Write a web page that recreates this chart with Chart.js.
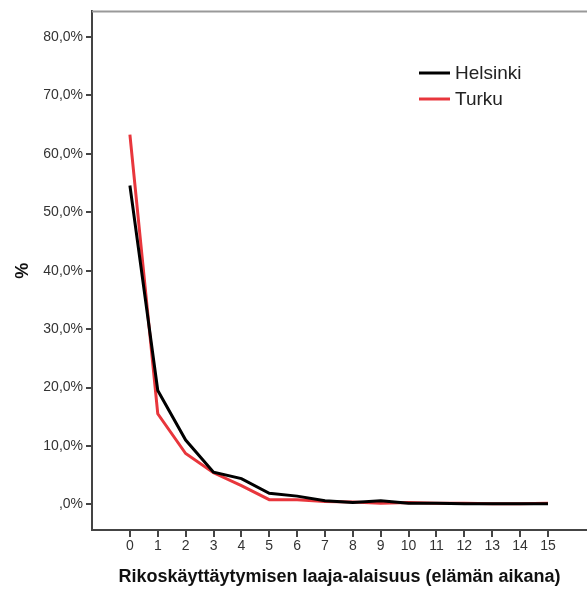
<!DOCTYPE html>
<html>
<head>
<meta charset="utf-8">
<script src="https://cdn.jsdelivr.net/npm/chart.js@4/dist/chart.umd.min.js"></script>
<style>
  html, body { margin: 0; padding: 0; background: #fff; }
  #wrap { width: 587px; height: 592px; }
</style>
</head>
<body>
<div id="wrap"><canvas id="rikosChart"></canvas></div>
<script>
const counts = [0, 1, 2, 3, 4, 5, 6, 7, 8, 9, 10, 11, 12, 13, 14, 15];
const helsinki = [54.6, 19.5, 11.0, 5.5, 4.4, 1.9, 1.4, 0.6, 0.3, 0.6, 0.2, 0.2, 0.1, 0.1, 0.1, 0.1];
const turku = [63.3, 15.5, 8.7, 5.4, 3.2, 0.8, 0.8, 0.5, 0.4, 0.2, 0.3, 0.2, 0.2, 0.1, 0.1, 0.2];
const yTicks = [0, 10, 20, 30, 40, 50, 60, 70, 80];

const fontFamily = '"Liberation Sans", Arial, sans-serif';

const toPoints = arr => arr.map((v, i) => ({ x: counts[i], y: v }));

// top frame line and inside legend
const framePlugin = {
    id: 'frameAndLegend',
    afterDraw(chart) {
        const ctx = chart.ctx;
        const area = chart.chartArea;
        ctx.save();
        ctx.strokeStyle = '#999';
        ctx.lineWidth = 2;
        ctx.beginPath();
        ctx.moveTo(area.left, area.top);
        ctx.lineTo(chart.width, area.top);
        ctx.stroke();

        ctx.font = '19px ' + fontFamily;
        ctx.textBaseline = 'middle';
        chart.data.datasets.forEach((ds, i) => {
            const y = 73 + i * 26;
            ctx.strokeStyle = ds.borderColor;
            ctx.lineWidth = 3;
            ctx.beginPath();
            ctx.moveTo(419, y);
            ctx.lineTo(450, y);
            ctx.stroke();
            ctx.fillStyle = '#222';
            ctx.fillText(ds.label, 455, y + 1);
        });
        ctx.restore();
    }
};

const ctxRikos = document.getElementById('rikosChart').getContext('2d');
const rikosChart = new Chart(ctxRikos, {
    type: 'line',
    data: {
        datasets: [{
            label: 'Helsinki',
            data: toPoints(helsinki),
            borderColor: '#000000',
            borderWidth: 3,
            pointRadius: 0,
            tension: 0
        }, {
            label: 'Turku',
            data: toPoints(turku),
            borderColor: '#e8363c',
            borderWidth: 3,
            pointRadius: 0,
            tension: 0
        }]
    },
    options: {
        responsive: true,
        maintainAspectRatio: false,
        animation: false,
        layout: {
            padding: { left: 0, right: 0, top: 8, bottom: 0 }
        },
        plugins: {
            legend: { display: false },
            tooltip: { enabled: false }
        },
        scales: {
            x: {
                type: 'linear',
                min: -1.36,
                max: 16.4,
                afterBuildTicks: scale => {
                    scale.ticks = counts.map(v => ({ value: v }));
                },
                afterFit: scale => {
                    scale.height = 62;
                },
                ticks: {
                    color: '#333',
                    font: { family: fontFamily, size: 14 },
                    padding: 1,
                    maxRotation: 0,
                    autoSkip: false
                },
                grid: {
                    drawOnChartArea: false,
                    drawTicks: true,
                    tickLength: 7,
                    color: '#444',
                    lineWidth: 2
                },
                border: { display: true, color: '#444', width: 2 },
                title: {
                    display: true,
                    text: 'Rikoskäyttäytymisen laaja-alaisuus (elämän aikana)',
                    color: '#111',
                    font: { family: fontFamily, size: 18, weight: 'bold' },
                    padding: { top: 0, bottom: 4 }
                }
            },
            y: {
                min: -4.4,
                max: 84.4,
                afterBuildTicks: scale => {
                    scale.ticks = yTicks.map(v => ({ value: v }));
                },
                afterFit: scale => {
                    scale.width = 92;
                },
                ticks: {
                    color: '#333',
                    font: { family: fontFamily, size: 14 },
                    padding: 3,
                    callback: value => (value === 0 ? '' : value.toFixed(0)) + ',0%'
                },
                grid: {
                    drawOnChartArea: false,
                    drawTicks: true,
                    tickLength: 6,
                    color: '#444',
                    lineWidth: 2
                },
                border: { display: true, color: '#444', width: 2 },
                title: {
                    display: true,
                    text: '%',
                    color: '#111',
                    font: { family: fontFamily, size: 18, weight: 'bold' },
                    padding: { top: 12, bottom: 0 }
                }
            }
        }
    },
    plugins: [framePlugin]
});
</script>
</body>
</html>
